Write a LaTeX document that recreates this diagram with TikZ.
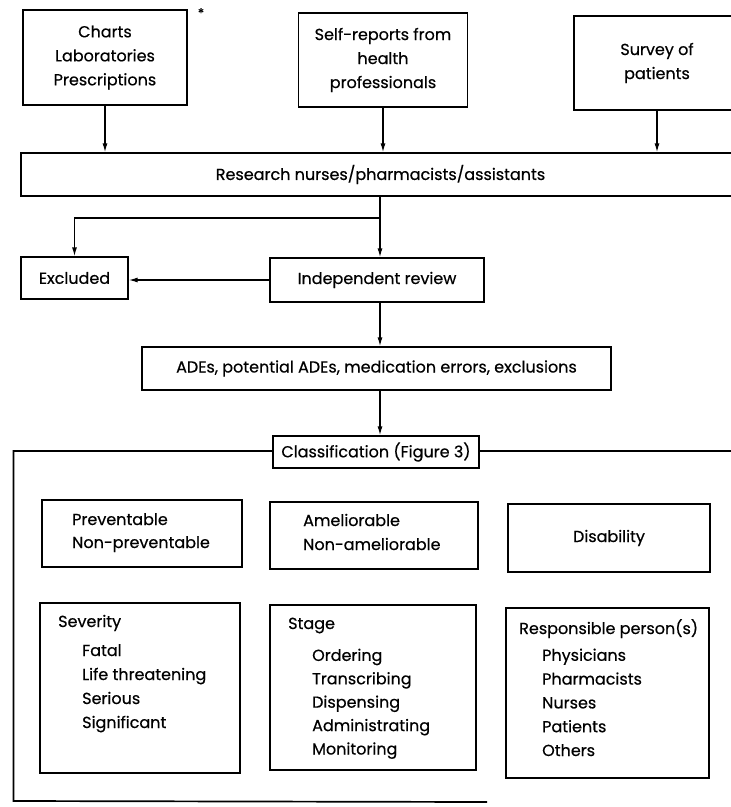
\documentclass[tikz,border=0pt]{standalone}
\usepackage{fontspec}
\setmainfont{Poppins}[FakeBold=0.5]
\usetikzlibrary{arrows.meta}
\tikzset{
  box/.style={draw, line width=1.3pt, inner sep=0pt, align=center, font=\fontsize{16}{24}\selectfont},
  lbl/.style={inner sep=0pt, anchor=west, text height=11pt, text depth=3pt, font=\fontsize{16}{24}\selectfont},
  arr/.style={line width=1.3pt, -{Latex[length=9pt,width=5pt]}},
  ln/.style={line width=1.3pt},
  framed/.style={line width=1.7pt}
}
\begin{document}
\begin{tikzpicture}[x=1pt,y=-1pt]
\useasboundingbox (0,0) rectangle (731,807);
\clip (0,0) rectangle (731,807);
% sources
\node[box, minimum width=164pt, minimum height=95pt] (src1) at (105,57.5) {Charts\\Laboratories\\Prescriptions};
\node[inner sep=0pt, font=\fontsize{13}{13}\selectfont] (ast) at (201,13) {*};
\node[box, minimum width=169pt, minimum height=94pt] (src2) at (383,60) {Self-reports from\\health\\professionals};
\node[box, minimum width=166pt, minimum height=94pt] (src3) at (657,63) {Survey of\\patients};
% research
\node[box, minimum width=719pt, minimum height=43pt] (res) at (380.5,174.5) {Research nurses/pharmacists/assistants};
\draw[arr] (src1.south) -- (src1.south |- res.north);
\draw[arr] (src2.south) -- (src2.south |- res.north);
\draw[arr] (src3.south) -- (src3.south |- res.north);
% review
\node[box, minimum width=214pt, minimum height=44pt] (rev) at (377,280) {Independent review};
\node[box, minimum width=107pt, minimum height=42pt] (exc) at (74.5,278) {Excluded};
\coordinate (split) at (380,218);
\draw[ln] (split |- res.south) -- (split);
\draw[arr] (split) -| (exc.north);
\draw[arr] (split) -- (split |- rev.north);
\draw[arr] (rev.west) -- (rev.west -| exc.east);
% ADEs
\node[box, minimum width=469pt, minimum height=43pt] (ade) at (376.5,368.5) {ADEs, potential ADEs, medication errors, exclusions};
\draw[arr] (split |- rev.south) -- (split |- ade.north);
% classification frame
\coordinate (fTL) at (13.5,451);
\coordinate (fBL) at (13.5,801);
\coordinate (fBR) at (487,802);
\coordinate (fTR) at (745,451);
\draw[framed] (fBR) -- (fBL) -- (fTL) -- (fTR);
\node[box, fill=white, minimum width=206pt, minimum height=32pt] (cls) at (376,452) {Classification (Figure 3)};
\draw[arr] (split |- ade.south) -- (split |- cls.north);
% upper row
\node[box, minimum width=200pt, minimum height=67pt] (prev) at (142,533.5) {};
\node[lbl] (prev1) at (72,521) {Preventable};
\node[lbl] (prev2) at (72,544) {Non-preventable};
\node[box, minimum width=208pt, minimum height=67pt] (amel) at (374,535.5) {};
\node[lbl] (amel1) at (303,522) {Ameliorable};
\node[lbl] (amel2) at (303,546) {Non-ameliorable};
\node[box, minimum width=202pt, minimum height=68pt] (dis) at (609,538) {Disability};
% lower row
\node[box, minimum width=200pt, minimum height=170pt] (sev) at (140,688) {};
\node[lbl] (sevh) at (58,623) {Severity};
\foreach \t [count=\i] in {Fatal, Life threatening, Serious, Significant}
  \node[lbl] (sev\i) at (82,628+24*\i) {\t};
\node[box, minimum width=206pt, minimum height=165pt] (stg) at (373,687.5) {};
\node[lbl] (stgh) at (288,625) {Stage};
\foreach \t [count=\i] in {Ordering, Transcribing, Dispensing, Administrating, Monitoring}
  \node[lbl] (stg\i) at (312,633.5+23.4*\i) {\t};
\node[box, minimum width=203pt, minimum height=170pt] (rsp) at (607.5,693) {};
\node[lbl] (rsph) at (519,630) {Responsible person(s)};
\foreach \t [count=\i] in {Physicians, Pharmacists, Nurses, Patients, Others}
  \node[lbl] (rsp\i) at (542,633+23.8*\i) {\t};
\end{tikzpicture}
\end{document}
